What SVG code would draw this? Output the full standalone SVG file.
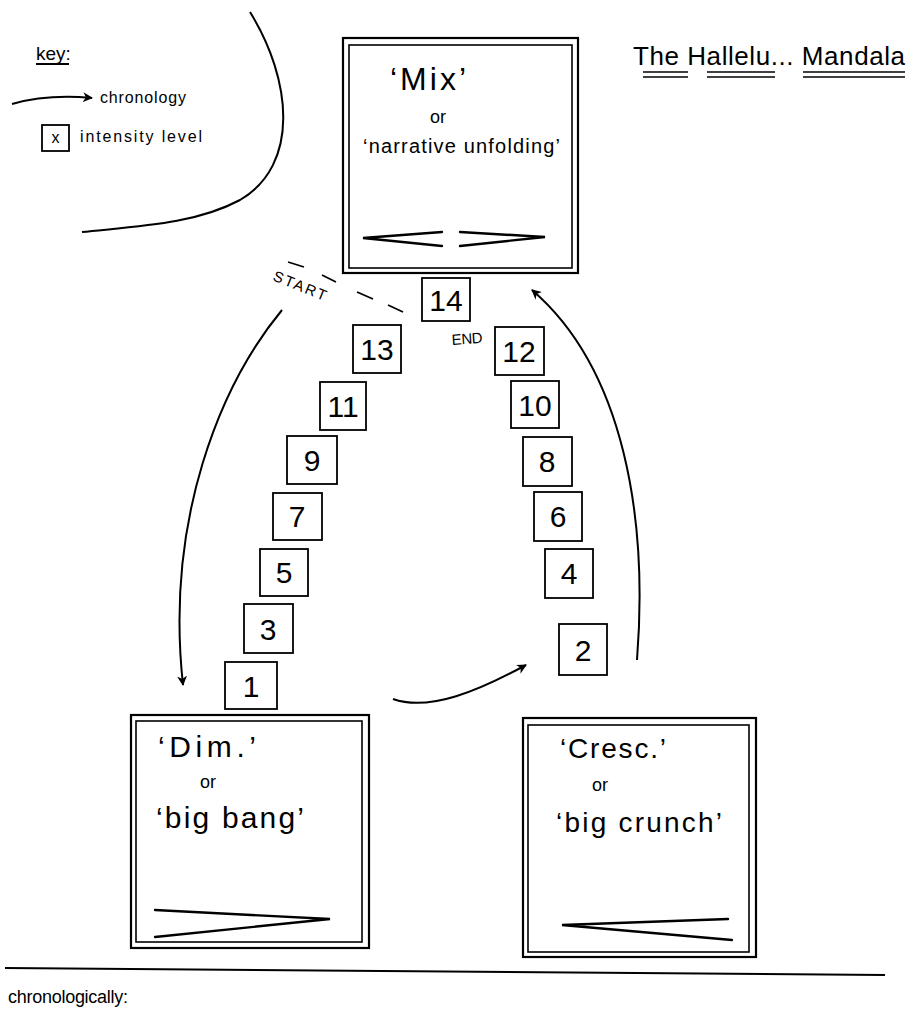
<svg xmlns="http://www.w3.org/2000/svg" width="911" height="1023" viewBox="0 0 911 1023">
<defs>
<marker id="ah" viewBox="0 0 10 10" refX="9" refY="5" markerWidth="10" markerHeight="10" markerUnits="userSpaceOnUse" orient="auto">
<path d="M0,0 L10,5 L0,10 L3,5 Z" fill="#000"/>
</marker>
<style>
text{font-family:"Liberation Sans","DejaVu Sans",sans-serif;fill:#000}
.frame{fill:none;stroke:#000;stroke-width:2.2}
.inner{fill:none;stroke:#000;stroke-width:1.6}
.num rect{fill:#fff;stroke:#000;stroke-width:1.8}
.num text{font-size:30px;text-anchor:middle}
.conn path{fill:none;stroke:#000;stroke-width:2;marker-end:url(#ah)}
.line{fill:none;stroke:#000;stroke-width:2}
.hair{fill:none;stroke:#000;stroke-width:2.4;stroke-linecap:round}
</style>
</defs>
<rect width="911" height="1023" fill="#fff"/>

<g id="key">
<path class="line" d="M250,12 C292,80 300,165 240,200 C195,224 140,226 82,232"/>
<text x="36" y="60" font-size="19">key:</text>
<line class="line" x1="36" y1="64" x2="69" y2="64" stroke-width="1.5"/>
<path d="M12,104 C40,96 70,96 92,98" fill="none" stroke="#000" stroke-width="2" marker-end="url(#ah)"/>
<text x="100" y="103" font-size="16" textLength="86">chronology</text>
<rect x="42" y="125" width="27" height="26" fill="none" stroke="#000" stroke-width="1.8"/>
<text x="55.5" y="143" font-size="16" text-anchor="middle">x</text>
<text x="80" y="142" font-size="16" textLength="122">intensity level</text>
</g>

<g id="title">
<text x="633" y="65" font-size="26" textLength="272">The Hallelu... Mandala</text>
<g stroke="#000" stroke-width="1.6">
<line x1="643" y1="72" x2="688" y2="72"/><line x1="643" y1="77" x2="688" y2="77"/>
<line x1="707" y1="72" x2="775" y2="72"/><line x1="707" y1="77" x2="775" y2="77"/>
<line x1="803" y1="72" x2="905" y2="72"/><line x1="803" y1="77" x2="905" y2="77"/>
</g>
</g>

<g id="mix">
<rect class="frame" x="343" y="38" width="235" height="235"/>
<rect class="inner" x="349" y="45" width="223" height="223"/>
<text x="390" y="90" font-size="32" textLength="76">‘Mix’</text>
<text x="430" y="123" font-size="18">or</text>
<text x="363" y="153" font-size="20" textLength="197">‘narrative unfolding’</text>
<path class="hair" d="M442,232 L363,238 L442,246 M460,232 L545,237 L460,246"/>
</g>

<g id="dim">
<rect class="frame" x="131" y="715" width="238" height="233"/>
<rect class="inner" x="136" y="721" width="226" height="221"/>
<text x="158" y="757" font-size="30" textLength="98">‘Dim.’</text>
<text x="200" y="788" font-size="18">or</text>
<text x="156" y="828" font-size="30" textLength="148">‘big bang’</text>
<path class="hair" d="M155,910 L330,919 L155,937"/>
</g>

<g id="cresc">
<rect class="frame" x="523" y="718" width="233" height="239"/>
<rect class="inner" x="528" y="725" width="221" height="227"/>
<text x="560" y="758" font-size="28" textLength="106">‘Cresc.’</text>
<text x="592" y="791" font-size="18">or</text>
<text x="556" y="832" font-size="28" textLength="166">‘big crunch’</text>
<path class="hair" d="M728,919 L562,925 L732,940"/>
</g>

<g id="labels">
<text x="0" y="0" font-size="15" textLength="56" transform="translate(272,280) rotate(22)">START</text>
<text x="452" y="345" font-size="15" textLength="31" transform="rotate(-4 452 345)">END</text>
<g stroke="#000" stroke-width="1.8">
<line x1="288" y1="262" x2="304" y2="267"/>
<line x1="322" y1="275" x2="336" y2="282"/>
<line x1="357" y1="292" x2="373" y2="299"/>
<line x1="388" y1="305" x2="403" y2="312"/>
</g>
</g>

<g id="n14" class="num"><rect x="422" y="278" width="48" height="43"/><text x="446" y="311">14</text></g>
<g id="n13" class="num"><rect x="353" y="325" width="48" height="48"/><text x="377" y="360">13</text></g>
<g id="n12" class="num"><rect x="495" y="327" width="49" height="48"/><text x="519" y="362">12</text></g>
<g id="n11" class="num"><rect x="320" y="382" width="46" height="48"/><text x="343" y="417">11</text></g>
<g id="n10" class="num"><rect x="511" y="381" width="48" height="47"/><text x="535" y="416">10</text></g>
<g id="n9" class="num"><rect x="287" y="436" width="50" height="48"/><text x="312" y="471">9</text></g>
<g id="n8" class="num"><rect x="523" y="437" width="49" height="49"/><text x="547" y="472">8</text></g>
<g id="n7" class="num"><rect x="273" y="493" width="49" height="47"/><text x="297" y="527">7</text></g>
<g id="n6" class="num"><rect x="534" y="492" width="48" height="49"/><text x="558" y="527">6</text></g>
<g id="n5" class="num"><rect x="260" y="549" width="48" height="47"/><text x="284" y="583">5</text></g>
<g id="n4" class="num"><rect x="545" y="549" width="48" height="49"/><text x="569" y="584">4</text></g>
<g id="n3" class="num"><rect x="244" y="604" width="49" height="49"/><text x="268" y="640">3</text></g>
<g id="n2" class="num"><rect x="559" y="624" width="48" height="51"/><text x="583" y="661">2</text></g>
<g id="n1" class="num"><rect x="225" y="662" width="52" height="47"/><text x="251" y="697">1</text></g>

<g id="connectors" class="conn">
<path d="M282,310 C220,385 165,520 183,685"/>
<path d="M393,699 C430,712 480,690 526,665"/>
<path d="M637,660 C648,520 625,370 532,290"/>
</g>

<g id="footer">
<line class="line" x1="5" y1="968" x2="885" y2="975"/>
<text x="8" y="1003" font-size="18" textLength="120">chronologically:</text>
</g>
</svg>
